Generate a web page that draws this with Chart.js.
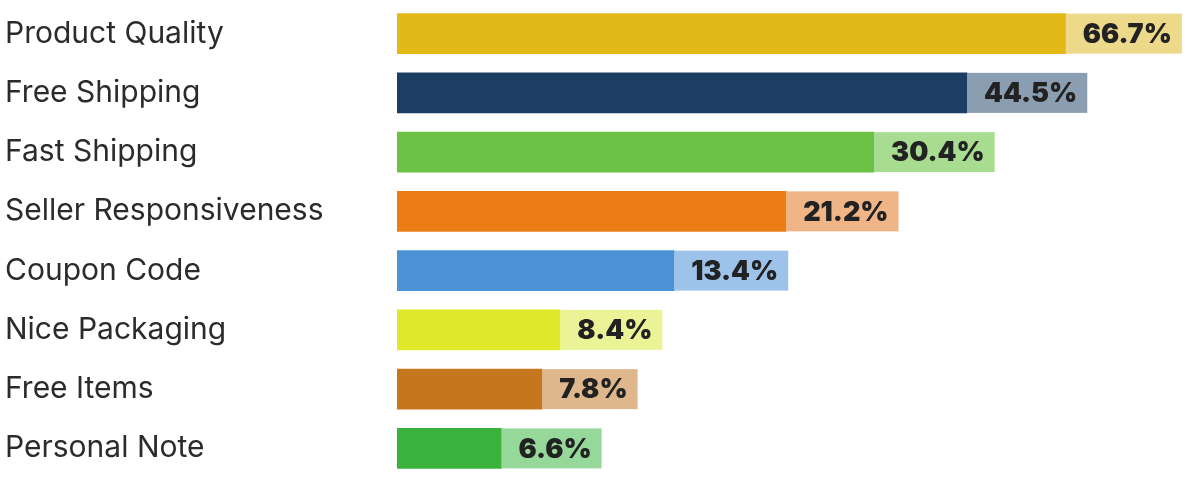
<!DOCTYPE html>
<html>
<head>
<meta charset="utf-8">
<script src="https://cdn.jsdelivr.net/npm/chart.js@4/dist/chart.umd.min.js"></script>
<style>
  body { margin: 0; background: #fff; }
  #wrap { width: 1200px; height: 478px; }
</style>
</head>
<body>
<div id="wrap"><canvas id="grafico" width="1200" height="478"></canvas></div>
<script>
// dados
const categorias = ["Product Quality", "Free Shipping", "Fast Shipping", "Seller Responsiveness",
  "Coupon Code", "Nice Packaging", "Free Items", "Personal Note"];
const valores = [66.7, 44.5, 30.4, 21.2, 13.4, 8.4, 7.8, 6.6];
const coresBarra = ["#E2B917", "#1D3E63", "#6BC244", "#EC7C16", "#4C93D6", "#DFE82A", "#C5761F", "#3AB23C"];
const coresCaixa = ["#EDD98A", "#8A9DB1", "#A8DC90", "#F0B587", "#9EC3EA", "#EAF395", "#DEB88C", "#95D89A"];

// caixa clara com o percentual no fim de cada barra
const caixaRotulo = {
  id: "caixaRotulo",
  afterDatasetsDraw(chart) {
    const ctx = chart.ctx;
    const meta = chart.getDatasetMeta(0);
    ctx.save();
    ctx.font = "900 27px Inter";
    ctx.textBaseline = "middle";
    ctx.textAlign = "right";
    meta.data.forEach((barra, i) => {
      const texto = valores[i].toFixed(1) + "%";
      const largura = ctx.measureText(texto).width + 27;
      const h = barra.height;
      ctx.fillStyle = coresCaixa[i];
      ctx.fillRect(barra.x, barra.y - h / 2, largura, h);
      ctx.fillStyle = "#222222";
      ctx.fillText(texto, barra.x + largura - 10, barra.y + 1);
    });
    ctx.restore();
  }
};

const ctx = document.getElementById("grafico").getContext("2d");
const meuGrafico = new Chart(ctx, {
  type: "bar",
  data: {
    labels: categorias,
    datasets: [{
      data: valores,
      backgroundColor: coresBarra,
      borderWidth: 0,
      barThickness: 40
    }]
  },
  options: {
    indexAxis: "y",
    responsive: false,
    animation: false,
    layout: { padding: { left: 5, top: 4, right: 10, bottom: 0 } },
    plugins: {
      legend: { display: false },
      tooltip: { enabled: false }
    },
    scales: {
      x: {
        type: "logarithmic",
        min: 4.3,
        max: 111,
        display: false
      },
      y: {
        grid: { display: false },
        border: { display: false },
        afterFit(scale) {
          scale.width = 392;
          scale.paddingTop = 0;
          scale.paddingBottom = 0;
        },
        ticks: {
          crossAlign: "far",
          padding: 0,
          color: "#2b2b2b",
          font: { family: "Inter", size: 30, weight: "400" }
        }
      }
    }
  },
  plugins: [caixaRotulo]
});
</script>
</body>
</html>
